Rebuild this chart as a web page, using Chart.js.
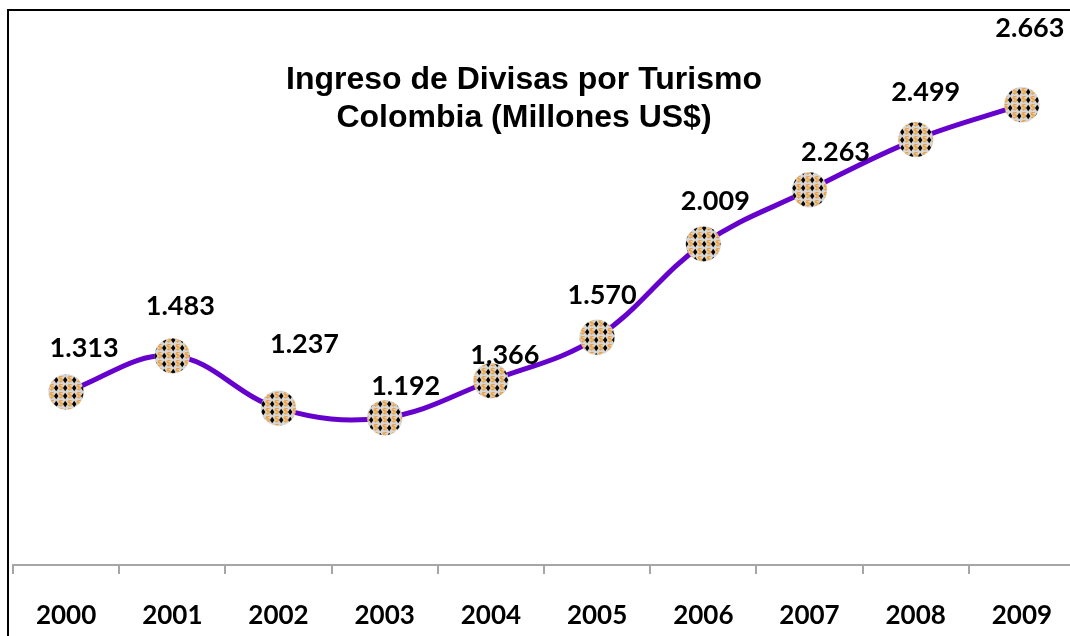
<!DOCTYPE html>
<html>
<head>
<meta charset="utf-8">
<script src="https://cdn.jsdelivr.net/npm/chart.js@4.4.0/dist/chart.umd.min.js"></script>
<style>
    html, body { margin: 0; padding: 0; background: #fff; overflow: hidden; }
    #wrap { position: relative; width: 1080px; height: 636px; }
</style>
</head>
<body>
<div id="wrap"><canvas id="turismoChart" width="1080" height="636"></canvas></div>
<script>
// datos del gráfico
const years = ['2000', '2001', '2002', '2003', '2004', '2005', '2006', '2007', '2008', '2009'];
const ingresos = [1.313, 1.483, 1.237, 1.192, 1.366, 1.570, 2.009, 2.263, 2.499, 2.663];
const titleLines = ['Ingreso de Divisas por Turismo', 'Colombia (Millones US$)'];

// desplazamiento de cada etiqueta respecto a su punto (estilo, no datos)
const labelShift = [[18, -44], [8, -50], [26, -64], [21, -31], [14, -25], [5, -42], [12, -43], [26, -38], [10, -47], [8, -76]];

// textura de los marcadores (rombos negros y signos $ naranjas)
function makeMarkerPattern() {
    const c = document.createElement('canvas');
    c.width = 9; c.height = 8;
    const g = c.getContext('2d');
    g.fillStyle = '#d8d6d2';
    g.fillRect(0, 0, 9, 8);
    g.fillStyle = '#000';
    g.beginPath();
    g.moveTo(2.2, 0.8); g.lineTo(4.4, 4); g.lineTo(2.2, 7.2); g.lineTo(0, 4);
    g.closePath();
    g.fill();
    g.fillStyle = '#eea040';
    g.font = 'bold 8px "DejaVu Sans"';
    g.textAlign = 'center';
    g.textBaseline = 'middle';
    g.fillText('$', 6.8, 4.3);
    return g.createPattern(c, 'repeat');
}

const ctx = document.getElementById('turismoChart');
const pattern = makeMarkerPattern();

// marco, título y etiquetas de valores
const decorPlugin = {
    id: 'decor',
    beforeDraw(chart) {
        const g = chart.ctx;
        g.save();
        g.strokeStyle = '#000';
        g.lineWidth = 2;
        g.strokeRect(8, 10, 1200, 800);
        g.restore();
    },
    afterDraw(chart) {
        const g = chart.ctx;
        g.save();
        g.fillStyle = '#000';
        g.textAlign = 'center';
        g.textBaseline = 'middle';
        g.font = 'bold 32px "Liberation Sans", Arial, sans-serif';
        g.fillText(titleLines[0], 524, 80);
        g.fillText(titleLines[1], 524, 118);

        g.font = 'bold 27px Lato, sans-serif';
        const meta = chart.getDatasetMeta(0);
        meta.data.forEach((pt, i) => {
            const txt = ingresos[i].toFixed(3);
            g.fillText(txt, pt.x + labelShift[i][0], pt.y + labelShift[i][1]);
        });
        g.restore();
    }
};

new Chart(ctx, {
    type: 'line',
    data: {
        labels: years,
        datasets: [{
            data: ingresos,
            borderColor: '#6600cc',
            borderWidth: 5,
            tension: 0.38,
            pointRadius: 17.5,
            pointBackgroundColor: pattern,
            pointBorderColor: 'rgba(200,200,200,0.6)',
            pointBorderWidth: 0.5,
            fill: false
        }]
    },
    options: {
        responsive: false,
        animation: false,
        layout: {
            autoPadding: false,
            padding: { top: 33, left: 13, right: 5, bottom: 0 }
        },
        plugins: {
            legend: { display: false },
            tooltip: { enabled: false }
        },
        scales: {
            x: {
                offset: true,
                grid: {
                    offset: true,
                    drawOnChartArea: false,
                    tickLength: 9,
                    color: '#a6a6a6',
                    lineWidth: 2
                },
                border: { color: '#a6a6a6', width: 2 },
                ticks: {
                    color: '#000',
                    padding: 26,
                    font: { family: 'Lato', weight: 'bold', size: 26 }
                },
                afterFit(scale) {
                    scale.height = 71;
                    scale.paddingLeft = 0;
                    scale.paddingRight = 0;
                }
            },
            y: {
                display: false,
                min: 0.5,
                max: 3.0
            }
        }
    },
    plugins: [decorPlugin]
});
</script>
</body>
</html>
